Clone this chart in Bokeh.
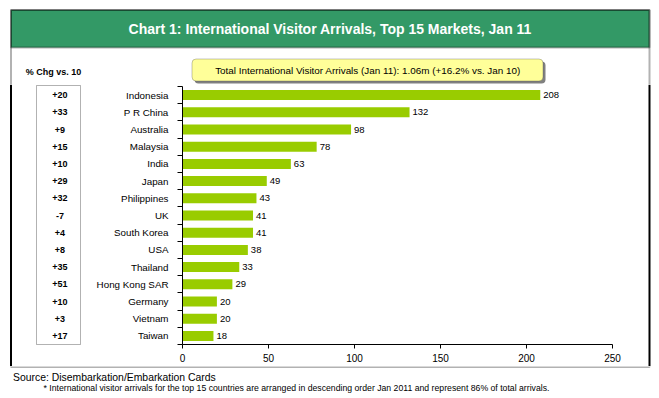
from bokeh.plotting import figure
from bokeh.layouts import column, row
from bokeh.models import Range1d, FixedTicker, BoxAnnotation, Label, LabelSet, ColumnDataSource, Span
from bokeh.core.properties import value
from bokeh.embed import file_html
from bokeh.resources import INLINE

markets = ["Indonesia", "P R China", "Australia", "Malaysia", "India", "Japan",
           "Philippines", "UK", "South Korea", "USA", "Thailand", "Hong Kong SAR",
           "Germany", "Vietnam", "Taiwan"]
arrivals = [208, 132, 98, 78, 63, 49, 43, 41, 41, 38, 33, 29, 20, 20, 18]
pct_change = ["+20", "+33", "+9", "+15", "+10", "+29", "+32", "-7", "+4", "+8",
              "+35", "+51", "+10", "+3", "+17"]
x_ticks = [0, 50, 100, 150, 200, 250]

title_text = "Chart 1: International Visitor Arrivals, Top 15 Markets, Jan 11"
pct_header = "% Chg vs. 10"
total_text = "Total International Visitor Arrivals (Jan 11): 1.06m (+16.2% vs. Jan 10)"
source_text = "Source: Disembarkation/Embarkation Cards"
note_text = ("* International visitor arrivals for the top 15 countries are arranged in "
             "descending order Jan 2011 and represent 86% of total arrivals.")

FONT = "Liberation Sans"
n = len(markets)
rows = [n - i - 0.5 for i in range(n)]
src = ColumnDataSource(dict(market=markets, value=arrivals, pct=pct_change, row=rows,
                            label=[str(v) for v in arrivals]))

# page layout (pixels)
W = 659
TOP_H = 84          # title strip
MID_H = 282         # chart row
BOT_H = 32          # footnotes
L_W, R_W = 90, 34
M_W = W - L_W - R_W
FRAME_TOP_PAD, FRAME_BOT_PAD = 2, 22
FRAME_H = MID_H - FRAME_TOP_PAD - FRAME_BOT_PAD
ROW_PX = FRAME_H / n
BORDER_L, BORDER_R, BORDER_T = 10.5, 649, 9.5


def deco_fig(width, height, xr, yr):
    f = figure(width=width, height=height, x_range=xr, y_range=yr, title=None,
               x_axis_type=None, y_axis_type=None, output_backend="svg",
               toolbar_location=None, min_border=0, frame_align=False)
    f.outline_line_color = None
    f.grid.visible = False
    f.border_fill_color = "white"
    f.background_fill_color = "white"
    return f


def lab(f, text, x, y, size, style="normal", color="black", align="center"):
    f.add_layout(Label(x=x, y=y, text=text, text_font=FONT, text_font_size=size,
                       text_font_style=style, text_color=color, text_align=align,
                       text_baseline="middle"))


# ---- top strip: title band, % header, total box
T = deco_fig(W, TOP_H, Range1d(0, W), Range1d(TOP_H, 0))
T.add_layout(BoxAnnotation(left=BORDER_L, right=BORDER_R, top=BORDER_T, bottom=47,
                           fill_color="#339966", fill_alpha=1, line_color="black", line_width=2))
T.add_layout(BoxAnnotation(left=BORDER_L, right=BORDER_R, top=BORDER_T, bottom=500,
                           fill_alpha=0, line_color="black", line_width=2))
lab(T, title_text, (BORDER_L + BORDER_R) / 2, 28.5, "14px", "bold", "white")
lab(T, pct_header, 53, 71, "9px", "bold")
T.add_layout(BoxAnnotation(left=194, right=545, top=61, bottom=83,
                           fill_color="#808080", fill_alpha=1, line_color=None, border_radius=4))
T.add_layout(BoxAnnotation(left=191.5, right=542.5, top=58.5, bottom=80.5,
                           fill_color="#FFFF99", fill_alpha=1, line_color="#404040",
                           line_width=1, border_radius=4))
lab(T, total_text, 367.5, 70, "9.9px")

# ---- left strip: % change column
L = deco_fig(L_W, MID_H, Range1d(0, L_W),
             Range1d(-FRAME_BOT_PAD / ROW_PX, n + FRAME_TOP_PAD / ROW_PX))
L.add_layout(Span(location=BORDER_L, dimension="height", line_color="black", line_width=2))
L.add_layout(BoxAnnotation(left=36, right=80, top=n + 1 / ROW_PX, bottom=0,
                           fill_alpha=0, line_color="black", line_width=1))
L.add_layout(LabelSet(x=59.5, y="row", text="pct", source=src,
                      text_baseline="middle", text_align="center",
                      text_font=value(FONT), text_font_size="9px", text_font_style="bold",
                      text_color="black"))

# ---- main chart
M = figure(width=M_W, height=MID_H, x_range=Range1d(0, 250), y_range=Range1d(0, n),
           title=None, output_backend="svg", toolbar_location=None, frame_align=False,
           min_border_left=182 - L_W, min_border_right=L_W + M_W - 612,
           min_border_top=FRAME_TOP_PAD, min_border_bottom=FRAME_BOT_PAD)
M.outline_line_color = None
M.grid.visible = False
M.border_fill_color = "white"
M.hbar(y="row", right="value", left=0, height=0.58, source=src,
       fill_color="#99CC00", line_color=None)
M.add_layout(LabelSet(x="value", y="row", text="label", source=src, x_offset=3,
                      text_baseline="middle", text_align="left",
                      text_font=value(FONT), text_font_size="9.5px", text_color="black"))

xa = M.xaxis[0]
xa.ticker = FixedTicker(ticks=x_ticks)
xa.major_tick_in = 0
xa.major_tick_out = 4
xa.minor_tick_line_color = None
xa.major_label_standoff = 5
xa.major_label_text_font = FONT
xa.major_label_text_font_size = "10px"
xa.major_label_text_color = "black"
xa.axis_line_color = "black"
xa.major_tick_line_color = "black"

ya = M.yaxis[0]
ya.ticker = FixedTicker(ticks=rows, minor_ticks=list(range(n + 1)))
ya.major_label_overrides = {r: m for r, m in zip(rows, markets)}
ya.major_tick_line_color = None
ya.major_tick_in = 0
ya.major_tick_out = 0
ya.minor_tick_in = 0
ya.minor_tick_out = 5
ya.minor_tick_line_color = "black"
ya.major_label_standoff = 9
ya.major_label_text_font = FONT
ya.major_label_text_font_size = "9.8px"
ya.major_label_text_color = "black"
ya.axis_line_color = "black"

# ---- right strip: border
R = deco_fig(R_W, MID_H, Range1d(W - R_W, W), Range1d(0, 1))
R.add_layout(Span(location=BORDER_R, dimension="height", line_color="black", line_width=2))

# ---- bottom strip: border bottom + notes
y0 = TOP_H + MID_H
B = deco_fig(W, BOT_H, Range1d(0, W), Range1d(y0 + BOT_H, y0))
B.add_layout(BoxAnnotation(left=BORDER_L, right=BORDER_R, top=-100, bottom=y0 + 0.5,
                           fill_alpha=0, line_color="black", line_width=2))
lab(B, source_text, 12.5, 376.5, "10.4px", align="left")
lab(B, note_text, 43, 387.5, "8.7px", align="left")

layout = column(T, row(L, M, R, spacing=0), B, spacing=0)
open("out.html", "w").write(file_html(layout, INLINE))
